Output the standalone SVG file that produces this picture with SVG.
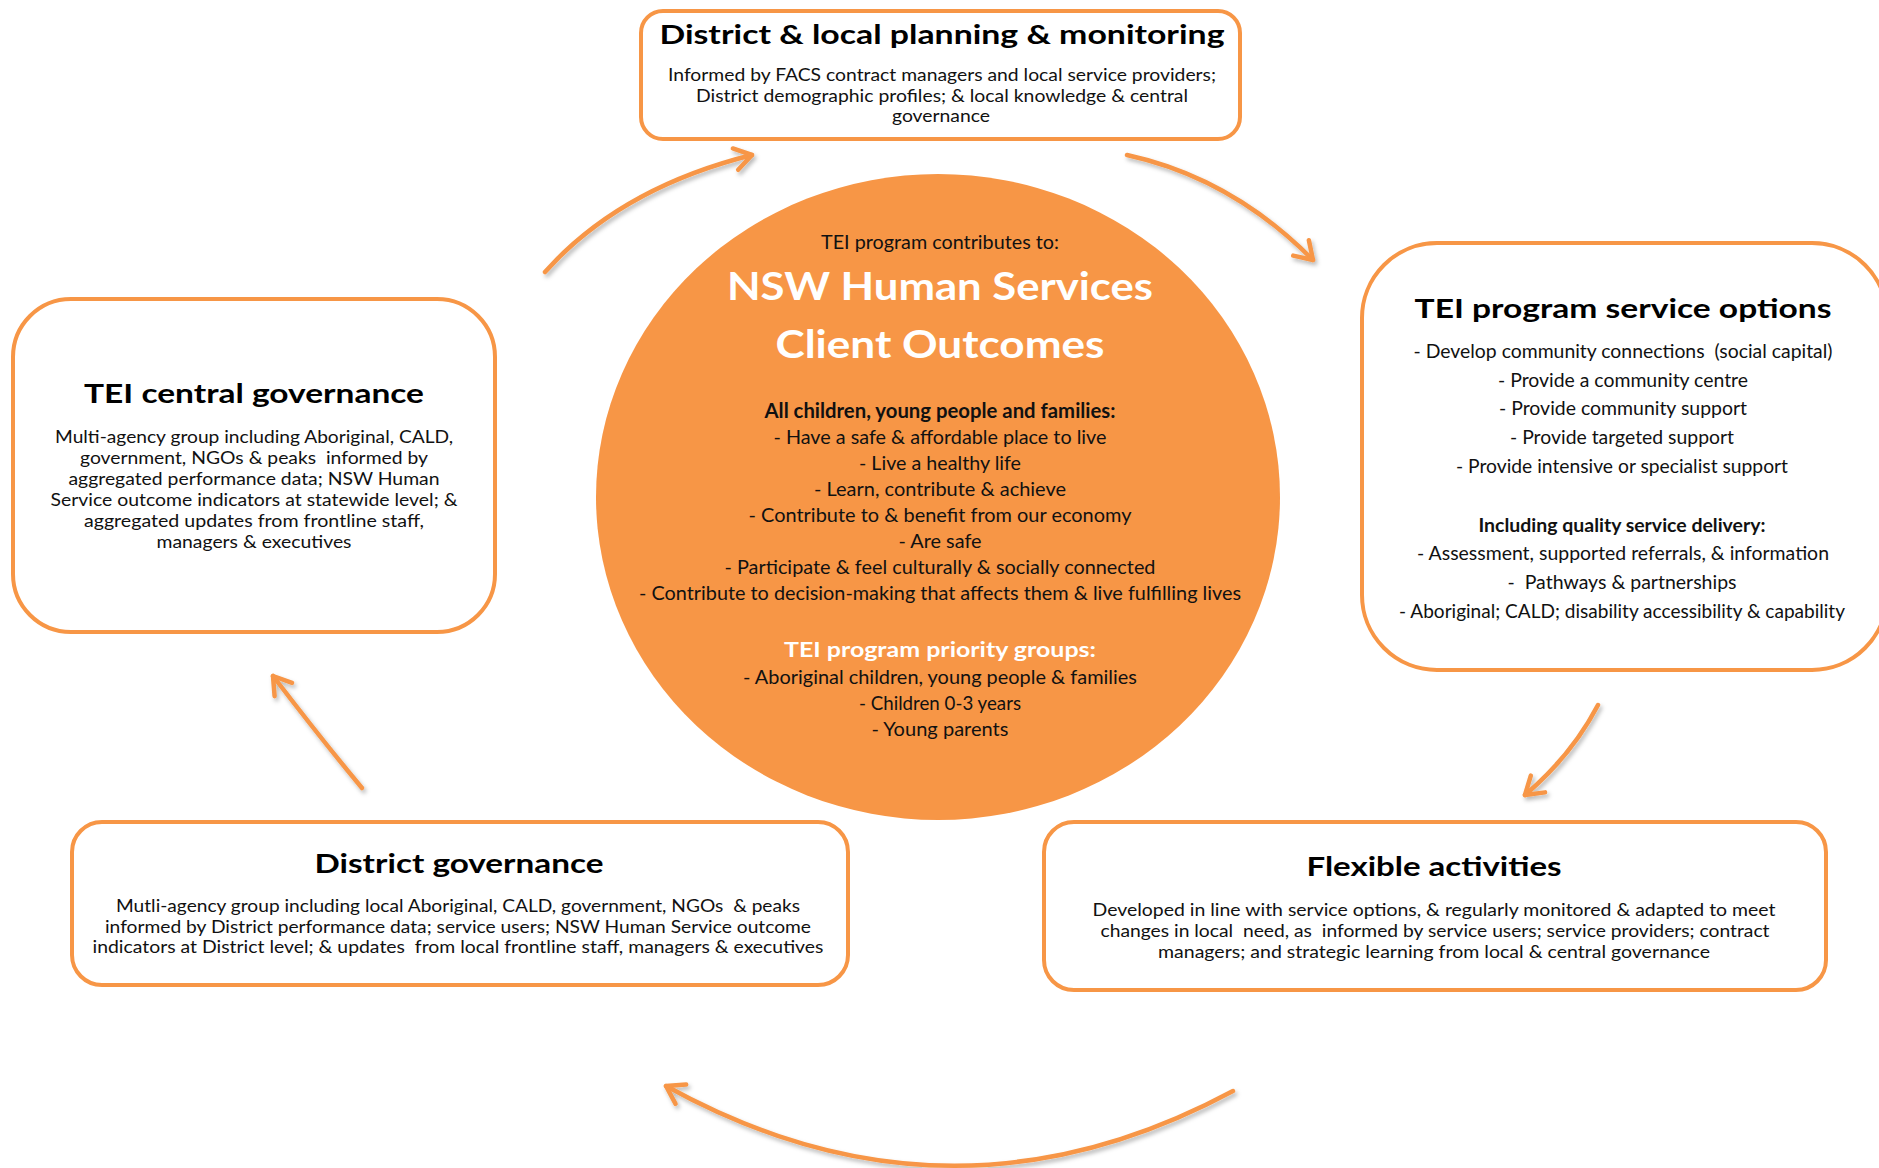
<svg xmlns="http://www.w3.org/2000/svg" width="1879" height="1168" viewBox="0 0 1879 1168">
  <defs>
    <style>
      .box { fill: #ffffff; stroke: #F79646; stroke-width: 4; }
      .hub { fill: #F79646; }
      .arrow { fill: none; stroke: #F79646; stroke-width: 4.5; stroke-linecap: round; marker-end: url(#head); }
      text { font-family: Lato, "Liberation Sans", "DejaVu Sans", sans-serif; text-anchor: middle; fill: #111111; white-space: pre; }
      .title { font-weight: 700; font-size: 27.5px; fill: #000000; }
      .body { font-size: 18px; }
      .small { font-size: 16.5px; }
      .opt { font-size: 19.5px; }
      .strong { font-weight: 700; }
      .hubtxt { font-size: 20px; }
      .hubhead { font-weight: 700; font-size: 39px; fill: #ffffff; }
      .hubsub { font-weight: 700; font-size: 21px; fill: #ffffff; }
    </style>
    <marker id="head" markerUnits="userSpaceOnUse" viewBox="-24 -16 28 32" refX="0" refY="0" markerWidth="28" markerHeight="32" orient="auto">
      <path d="M-17,-11 L0,0 L-17,11" fill="none" stroke="#F79646" stroke-width="4.5" stroke-linecap="round" stroke-linejoin="round"/>
    </marker>
    <filter id="soft" x="-20%" y="-20%" width="140%" height="140%">
      <feDropShadow dx="2" dy="3" stdDeviation="2" flood-color="#000000" flood-opacity="0.28"/>
    </filter>
  </defs>

  <rect width="1879" height="1168" fill="#ffffff"/>

  <!-- cycle connectors -->
  <g id="connectors" filter="url(#soft)">
    <path class="arrow" d="M545,272 Q620,188 752,155"/>
    <path class="arrow" d="M1127,155 Q1232,178 1313,260"/>
    <path class="arrow" d="M1598,705 Q1572,755 1525,795"/>
    <path class="arrow" d="M1233,1091 Q950,1243 666,1086"/>
    <path class="arrow" d="M362,788 Q322,740 273,676"/>
  </g>

  <!-- central outcomes ellipse -->
  <g id="outcomes">
    <ellipse class="hub" cx="938" cy="497" rx="342" ry="323"/>
    <text class="hubtxt" x="940" y="249" textLength="238" lengthAdjust="spacingAndGlyphs">TEI program contributes to:</text>
    <text class="hubhead" x="940" y="300" textLength="426" lengthAdjust="spacingAndGlyphs">NSW Human Services</text>
    <text class="hubhead" x="940" y="358" textLength="329" lengthAdjust="spacingAndGlyphs">Client Outcomes</text>
    <text class="hubtxt strong" x="940" y="418" textLength="351" lengthAdjust="spacingAndGlyphs">All children, young people and families:</text>
    <text class="hubtxt" x="940" y="444" textLength="333" lengthAdjust="spacingAndGlyphs">- Have a safe &amp; affordable place to live</text>
    <text class="hubtxt" x="940" y="470" textLength="162" lengthAdjust="spacingAndGlyphs">- Live a healthy life</text>
    <text class="hubtxt" x="940" y="496" textLength="252" lengthAdjust="spacingAndGlyphs">- Learn, contribute &amp; achieve</text>
    <text class="hubtxt" x="940" y="522" textLength="383" lengthAdjust="spacingAndGlyphs">- Contribute to &amp; benefit from our economy</text>
    <text class="hubtxt" x="940" y="548" textLength="83" lengthAdjust="spacingAndGlyphs">- Are safe</text>
    <text class="hubtxt" x="940" y="574" textLength="431" lengthAdjust="spacingAndGlyphs">- Participate &amp; feel culturally &amp; socially connected</text>
    <text class="hubtxt" x="940" y="600" textLength="602" lengthAdjust="spacingAndGlyphs">- Contribute to decision-making that affects them &amp; live fulfilling lives</text>
    <text class="hubsub" x="940" y="657" textLength="312" lengthAdjust="spacingAndGlyphs">TEI program priority groups:</text>
    <text class="hubtxt" x="940" y="684" textLength="394" lengthAdjust="spacingAndGlyphs">- Aboriginal children, young people &amp; families</text>
    <text class="hubtxt" x="940" y="710" textLength="162" lengthAdjust="spacingAndGlyphs">- Children 0-3 years</text>
    <text class="hubtxt" x="940" y="736" textLength="137" lengthAdjust="spacingAndGlyphs">- Young parents</text>
  </g>

  <!-- top: planning & monitoring -->
  <g id="planning">
    <rect class="box" x="641" y="11" width="599" height="128" rx="22"/>
    <text class="title" x="942" y="44" textLength="565" lengthAdjust="spacingAndGlyphs">District &amp; local planning &amp; monitoring</text>
    <text class="small" x="942" y="81" textLength="548" lengthAdjust="spacingAndGlyphs">Informed by FACS contract managers and local service providers;</text>
    <text class="small" x="942" y="102" textLength="492" lengthAdjust="spacingAndGlyphs">District demographic profiles; &amp; local knowledge &amp; central</text>
    <text class="small" x="941" y="122" textLength="98" lengthAdjust="spacingAndGlyphs">governance</text>
  </g>

  <!-- right: service options -->
  <g id="service-options">
    <rect class="box" x="1362" y="243" width="525" height="427" rx="75"/>
    <text class="title" x="1623" y="318" textLength="417" lengthAdjust="spacingAndGlyphs">TEI program service options</text>
    <text class="opt" x="1623" y="358" textLength="419" lengthAdjust="spacingAndGlyphs">- Develop community connections  (social capital)</text>
    <text class="opt" x="1623" y="387" textLength="250" lengthAdjust="spacingAndGlyphs">- Provide a community centre</text>
    <text class="opt" x="1623" y="415" textLength="248" lengthAdjust="spacingAndGlyphs">- Provide community support</text>
    <text class="opt" x="1622" y="444" textLength="224" lengthAdjust="spacingAndGlyphs">- Provide targeted support</text>
    <text class="opt" x="1622" y="473" textLength="332" lengthAdjust="spacingAndGlyphs">- Provide intensive or specialist support</text>
    <text class="opt strong" x="1622" y="532" textLength="287" lengthAdjust="spacingAndGlyphs">Including quality service delivery:</text>
    <text class="opt" x="1623" y="560" textLength="412" lengthAdjust="spacingAndGlyphs">- Assessment, supported referrals, &amp; information</text>
    <text class="opt" x="1622" y="589" textLength="229" lengthAdjust="spacingAndGlyphs">-  Pathways &amp; partnerships</text>
    <text class="opt" x="1622" y="618" textLength="446" lengthAdjust="spacingAndGlyphs">- Aboriginal; CALD; disability accessibility &amp; capability</text>
  </g>

  <!-- bottom right: flexible activities -->
  <g id="flexible-activities">
    <rect class="box" x="1044" y="822" width="782" height="168" rx="30"/>
    <text class="title" x="1434" y="876" textLength="255" lengthAdjust="spacingAndGlyphs">Flexible activities</text>
    <text class="small" x="1434" y="916" textLength="683" lengthAdjust="spacingAndGlyphs">Developed in line with service options, &amp; regularly monitored &amp; adapted to meet</text>
    <text class="small" x="1435" y="937" textLength="669" lengthAdjust="spacingAndGlyphs">changes in local  need, as  informed by service users; service providers; contract</text>
    <text class="small" x="1434" y="958" textLength="552" lengthAdjust="spacingAndGlyphs">managers; and strategic learning from local &amp; central governance</text>
  </g>

  <!-- bottom left: district governance -->
  <g id="district-governance">
    <rect class="box" x="72" y="822" width="776" height="163" rx="30"/>
    <text class="title" x="459" y="873" textLength="289" lengthAdjust="spacingAndGlyphs">District governance</text>
    <text class="small" x="458" y="912" textLength="684" lengthAdjust="spacingAndGlyphs">Mutli-agency group including local Aboriginal, CALD, government, NGOs  &amp; peaks</text>
    <text class="small" x="458" y="933" textLength="706" lengthAdjust="spacingAndGlyphs">informed by District performance data; service users; NSW Human Service outcome</text>
    <text class="small" x="458" y="953" textLength="731" lengthAdjust="spacingAndGlyphs">indicators at District level; &amp; updates  from local frontline staff, managers &amp; executives</text>
  </g>

  <!-- left: central governance -->
  <g id="central-governance">
    <rect class="box" x="13" y="299" width="482" height="333" rx="58"/>
    <text class="title" x="254" y="403" textLength="340" lengthAdjust="spacingAndGlyphs">TEI central governance</text>
    <text class="body" x="254" y="443" textLength="398" lengthAdjust="spacingAndGlyphs">Multi-agency group including Aboriginal, CALD,</text>
    <text class="body" x="254" y="464" textLength="348" lengthAdjust="spacingAndGlyphs">government, NGOs &amp; peaks  informed by</text>
    <text class="body" x="254" y="485" textLength="371" lengthAdjust="spacingAndGlyphs">aggregated performance data; NSW Human</text>
    <text class="body" x="254" y="506" textLength="407" lengthAdjust="spacingAndGlyphs">Service outcome indicators at statewide level; &amp;</text>
    <text class="body" x="254" y="527" textLength="340" lengthAdjust="spacingAndGlyphs">aggregated updates from frontline staff,</text>
    <text class="body" x="254" y="548" textLength="195" lengthAdjust="spacingAndGlyphs">managers &amp; executives</text>
  </g>
</svg>
